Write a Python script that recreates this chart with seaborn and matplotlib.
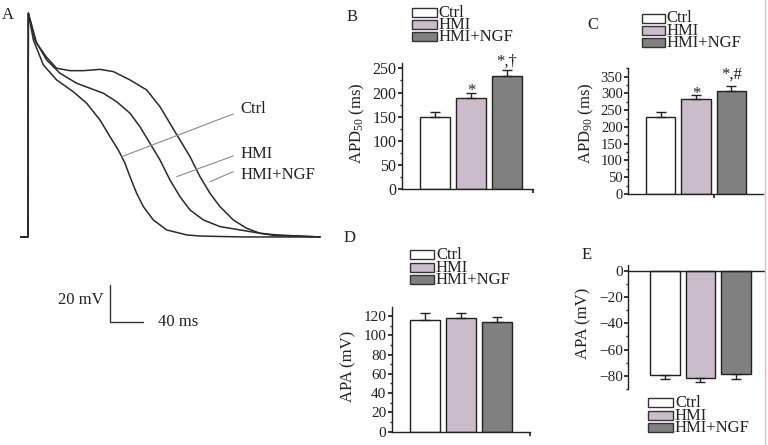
import numpy as np
import pandas as pd
import seaborn as sns
import matplotlib.pyplot as plt
from matplotlib.patches import Rectangle
from matplotlib.lines import Line2D
from matplotlib.ticker import MultipleLocator

# ---- data ----
groups = ['Ctrl', 'HMI', 'HMI+NGF']
colors = ['#ffffff', '#cbbccb', '#808080']

apd50 = [149, 189, 235]
apd50_err = [11, 11, 12]
apd90 = [229, 282, 308]
apd90_err = [17, 13, 15]
apa = [115.8, 117.9, 113.8]
apa_err = [7, 5.5, 5.5]
rp = [-79.2, -81.8, -78.7]
rp_err = [3.3, 3.0, 3.8]

# action potential traces (ms, mV)
ctrl_t = [-9, 0, 0.4, 6.5, 18.6, 34.7, 54.9, 71.1, 87.3, 99.4, 109.5, 117.6, 123.6,
          131.7, 139.8, 151.9, 168.1, 192.3, 208.5, 260, 354]
ctrl_v = [-80, -80, 41, 26.5, 13, 4.9, -1.5, -7.7, -16.8, -25.8, -33, -40.2, -47.4,
          -56.4, -63.6, -70.8, -76.2, -78.9, -79.5, -80, -80]
hmi_t = [-9, 0, 0.4, 8.5, 22.6, 38.8, 59, 75.1, 91.3, 107.5, 123.6, 135.7, 147.9, 160,
         172.1, 184.2, 196.4, 212.5, 232.7, 257, 281.2, 301.4, 354]
hmi_v = [-80, -80, 41, 26.5, 15.7, 8.5, 3.1, 0.4, -2.3, -6.9, -13.1, -20.4, -29.4, -38.4,
         -49.2, -58.2, -65.4, -70.8, -74.4, -76.2, -78, -78.9, -80]
ngf_t = [-9, 0, 0.4, 10.5, 22.6, 34.7, 50.9, 67, 87.3, 103.4, 123.6, 143.8, 160, 172.1,
         184.2, 196.4, 208.5, 220.6, 232.7, 248.8, 265, 281.2, 297.3, 354]
ngf_v = [-80, -80, 41, 24.7, 17.1, 11.2, 9.9, 9.9, 10.6, 9.4, 4.9, -0.5, -9.6, -18.6,
         -27.6, -36.6, -47.4, -56.4, -63.6, -70.8, -75.3, -78, -79.1, -80]

W, H = 768, 445
ink = '#222222'

sns.set_theme(style='ticks')
plt.rcParams['font.family'] = ['Liberation Serif', 'DejaVu Serif']
plt.rcParams.update({
    'mathtext.default': 'regular',
    'axes.edgecolor': ink, 'axes.linewidth': 1.0,
    'text.color': ink, 'axes.labelcolor': ink,
    'xtick.color': ink, 'ytick.color': ink,
    'xtick.direction': 'out', 'ytick.direction': 'out',
})

fig = plt.figure(figsize=(W / 100, H / 100), dpi=100)


def px_axes(l, t, r, b):
    return fig.add_axes([l / W, 1 - b / H, (r - l) / W, (b - t) / H])


def draw_legend(x, y, w=24, h=9, pitch=12.5):
    for i, (g, c) in enumerate(zip(groups, colors)):
        top = y + i * pitch
        fig.add_artist(Rectangle((x / W, 1 - (top + h) / H), w / W, h / H,
                                 transform=fig.transFigure, facecolor=c,
                                 edgecolor='#333333', lw=1))
        fig.text((x + w + 2) / W, 1 - (top + h / 2 + 0.5) / H, g, fontsize=12,
                 va='center', ha='left')


def bar_panel(ax, vals, errs, down=False):
    df = pd.DataFrame({'group': groups, 'value': vals})
    sns.barplot(data=df, x='group', y='value', hue='group', order=groups,
                hue_order=groups, palette=dict(zip(groups, colors)), saturation=1,
                width=0.84, edgecolor=ink, linewidth=1, legend=False,
                errorbar=None, ax=ax)
    zeros = [0] * len(vals)
    yerr = [errs, zeros] if down else [zeros, errs]
    ax.errorbar(range(len(vals)), vals, yerr=yerr, fmt='none', ecolor=ink,
                elinewidth=1, capsize=3.3, capthick=1)
    sns.despine(ax=ax)
    ax.set_xlabel('')
    ax.tick_params(axis='y', labelsize=11.5, length=3, pad=1)
    ax.tick_params(axis='y', which='minor', length=1.8)
    ax.tick_params(axis='x', length=3, labelbottom=False)


# ---- panel A: action potentials ----
axA = px_axes(20, 10, 325, 330)
for t, v in [(ctrl_t, ctrl_v), (hmi_t, hmi_v), (ngf_t, ngf_v)]:
    sns.lineplot(x=t, y=v, ax=axA, color='#2a2a2a', lw=1.1, sort=False,
                 estimator=None)
axA.set_xlim(-9.7, 360)
axA.set_ylim(-130.3, 42.7)
axA.axis('off')

leaders = {'Ctrl': [(113.6, -36.6), (248.8, -13.5), -10.8],
           'HMI': [(180.2, -47.4), (248.8, -36.2), -35.1],
           'HMI+NGF': [(220.6, -50.1), (248.8, -44.7), -46.5]}
for name, (p0, p1, ty) in leaders.items():
    axA.plot([p0[0], p1[0]], [p0[1], p1[1]], color='#8a8a8a', lw=0.8)
    axA.text(257, ty, name, fontsize=12, ha='left', va='center')

# scale bar 40 ms x 20 mV
sb_t, sb_v = 99.4, -126
axA.plot([sb_t, sb_t, sb_t + 40], [sb_v + 20, sb_v, sb_v], color='#333333', lw=1)
axA.text(sb_t - 8, sb_v + 12, '20 mV', fontsize=12, ha='right', va='center')
axA.text(sb_t + 58, sb_v, '40 ms', fontsize=12, ha='left', va='center')

# ---- panel B: APD50 ----
axB = px_axes(401.7, 63.5, 533.3, 189.3)
bar_panel(axB, apd50, apd50_err)
axB.set_xlim(-0.93, 2.74)
axB.set_ylim(0, 260)
axB.yaxis.set_major_locator(MultipleLocator(50))
axB.yaxis.set_minor_locator(MultipleLocator(25))
axB.set_xticks([2.74])
axB.set_ylabel('APD$_{50}$ (ms)', fontsize=12)
axB.yaxis.set_label_coords(-0.266, 0.525)
axB.annotate('*', (1, apd50[1] + apd50_err[1]), xytext=(0, -1.5),
             textcoords='offset points', ha='center', va='baseline', fontsize=12)
axB.annotate('*,†', (2, apd50[2] + apd50_err[2]), xytext=(0, 3),
             textcoords='offset points', ha='center', va='baseline', fontsize=12)

# ---- panel C: APD90 ----
axC = px_axes(628.3, 68.3, 763.3, 194)
bar_panel(axC, apd90, apd90_err)
axC.set_xlim(-0.91, 2.9)
axC.set_ylim(0, 375)
axC.yaxis.set_major_locator(MultipleLocator(50))
axC.yaxis.set_minor_locator(MultipleLocator(25))
axC.set_xticks([1.5])
axC.tick_params(axis='y', labelsize=10.5)
axC.set_ylabel('APD$_{90}$ (ms)', fontsize=12)
axC.yaxis.set_label_coords(-0.239, 0.562)
axC.annotate('*', (1, apd90[1] + apd90_err[1]), xytext=(0, -2),
             textcoords='offset points', ha='center', va='baseline', fontsize=12)
axC.annotate('*,#', (2, apd90[2] + apd90_err[2]), xytext=(0, 5),
             textcoords='offset points', ha='center', va='baseline', fontsize=12)

# ---- panel D: APA ----
axD = px_axes(391.7, 307.3, 530, 431.7)
bar_panel(axD, apa, apa_err)
axD.set_xlim(-0.94, 2.93)
axD.set_ylim(0, 129)
axD.yaxis.set_major_locator(MultipleLocator(20))
axD.yaxis.set_minor_locator(MultipleLocator(10))
axD.set_xticks([2.93])
axD.tick_params(axis='y', labelsize=11)
axD.set_ylabel('APA (mV)', fontsize=12)
axD.yaxis.set_label_coords(-0.253, 0.523)

# ---- panel E: resting potential ----
axE = px_axes(628.3, 265.4, 764, 389.1)
bar_panel(axE, rp, rp_err, down=True)
axE.set_xlim(-1.04, 2.8)
axE.set_ylim(-90, 4)
axE.spines['bottom'].set_position(('data', 0))
axE.set_xticks([])
axE.yaxis.set_major_locator(MultipleLocator(20))
axE.yaxis.set_minor_locator(MultipleLocator(10))
axE.tick_params(axis='y', labelsize=11)
axE.set_ylabel('APA (mV)', fontsize=12)
axE.yaxis.set_label_coords(-0.27, 0.532)

# legends
draw_legend(411.7, 8.3, w=25, pitch=11.7)
draw_legend(641.7, 13.5, w=23, pitch=12.3)
draw_legend(410, 250, w=24, pitch=12.5)
draw_legend(648, 398, w=25, pitch=12.5)

# panel letters
for letter, (x, y) in {'A': (8, 15), 'B': (352, 17), 'C': (593, 25),
                       'D': (350, 238), 'E': (587, 255)}.items():
    fig.text(x / W, 1 - y / H, letter, fontsize=12, ha='center', va='center')

# page edge line on the right
fig.add_artist(Line2D([764.5 / W, 764.5 / W], [0, 1], color='#f2b5b5', lw=1,
                      transform=fig.transFigure))

fig.savefig('out.png', dpi=100)
